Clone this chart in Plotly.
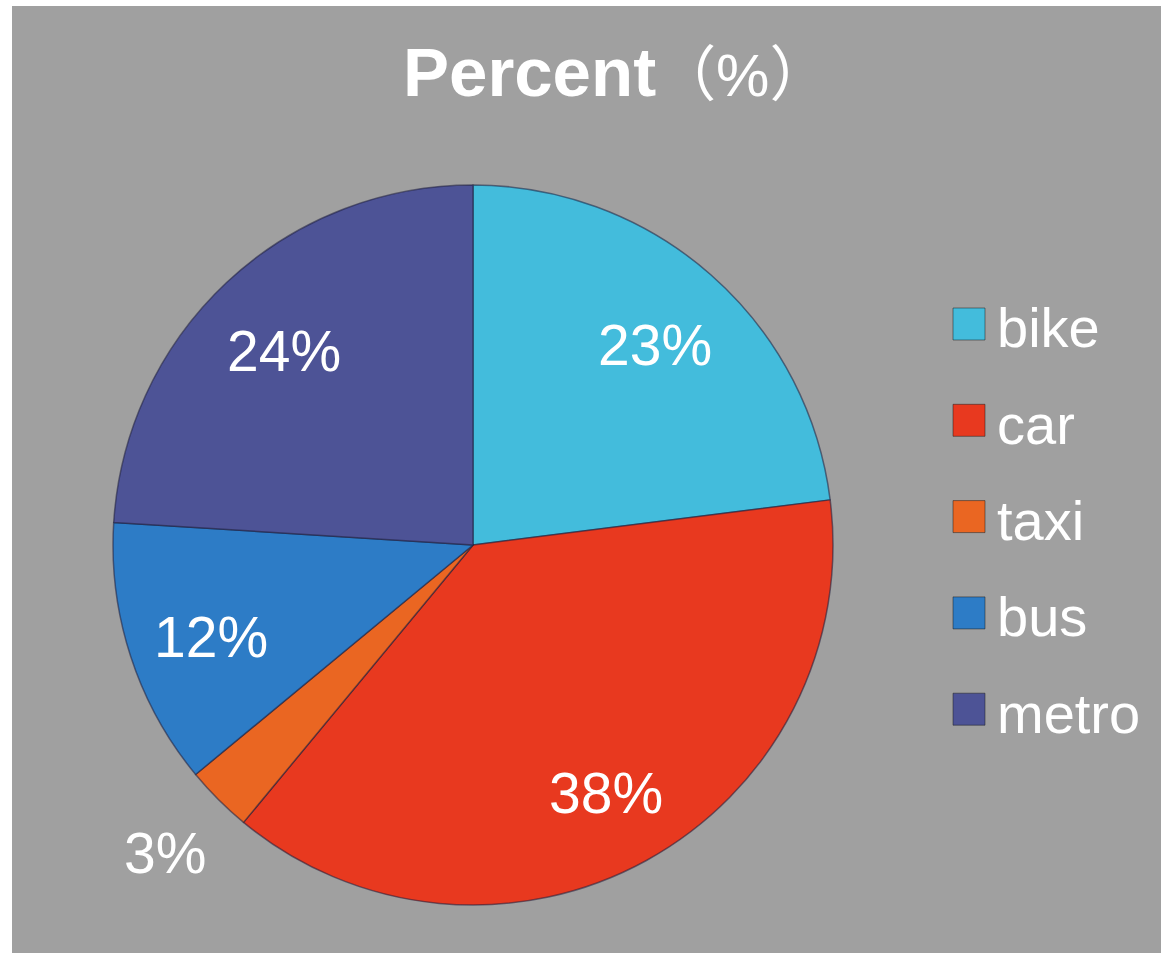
import math
import plotly.graph_objects as go

# 数据
labels = ["bike", "car", "taxi", "bus", "metro"]
values = [23, 38, 3, 12, 24]
colors = ["#43bcdc", "#e8391f", "#ea6622", "#2d7cc6", "#4d5396"]
outside = ["taxi"]

W, H = 1161, 953
BG = "#a0a0a0"
FONT = "Liberation Sans, Arial, Noto Sans CJK SC, sans-serif"

# 饼图位置（像素）
cx, cy, r = 473, 545, 360

fig = go.Figure()
fig.add_trace(go.Pie(
    labels=labels,
    values=values,
    sort=False,
    direction="clockwise",
    rotation=0,
    marker=dict(colors=colors, line=dict(color="rgba(30,30,60,0.55)", width=1.5)),
    textinfo="none",
    showlegend=False,
    hoverinfo="label+percent",
    domain=dict(x=[(cx - r) / W, (cx + r) / W],
                y=[(H - cy - r) / H, (H - cy + r) / H]),
))

# 百分比标签：沿每块扇形的中线放置
total = sum(values)
cum = 0
for name, v in zip(labels, values):
    mid = (cum + v / 2) / total * 2 * math.pi
    cum += v
    k = 1.21 if name in outside else 0.765
    px = cx + k * r * math.sin(mid)
    py = cy - k * r * math.cos(mid) + (0 if name in outside else 7)
    fig.add_annotation(text=f"{round(v / total * 100)}%", xref="paper", yref="paper",
                       x=px / W, y=1 - py / H, xanchor="center", yanchor="middle",
                       showarrow=False, font=dict(family=FONT, size=57, color="white"))

# 灰色背景
fig.add_shape(type="rect", xref="paper", yref="paper",
              x0=12 / W, x1=1, y0=0, y1=1 - 6 / H,
              fillcolor=BG, line_width=0, layer="below")

# 标题
fig.add_annotation(text="<b>Percent</b><span style='font-size:60px'>（%）</span>",
                   xref="paper", yref="paper",
                   x=616 / W, y=1 - 72 / H, xanchor="center", yanchor="middle",
                   showarrow=False, font=dict(family=FONT, size=69, color="white"))

# 自定义图例
lx, ly0, step, sq = 969, 324, 96.3, 32
for i, (name, col) in enumerate(zip(labels, colors)):
    yc = ly0 + i * step
    fig.add_shape(type="rect", xref="paper", yref="paper",
                  x0=(lx - sq / 2) / W, x1=(lx + sq / 2) / W,
                  y0=1 - (yc + sq / 2) / H, y1=1 - (yc - sq / 2) / H,
                  fillcolor=col, line=dict(color="rgba(30,30,30,0.5)", width=1))
    fig.add_annotation(text=name, xref="paper", yref="paper",
                       x=995 / W, y=1 - (yc + 4) / H, xanchor="left", yanchor="middle",
                       showarrow=False, font=dict(family=FONT, size=56, color="white"))

fig.update_layout(
    width=W, height=H,
    margin=dict(l=0, r=0, t=0, b=0),
    paper_bgcolor="white",
    plot_bgcolor="white",
)

fig.write_html("out.html", config={"displayModeBar": False},
               post_script="document.body.style.margin='0';")
